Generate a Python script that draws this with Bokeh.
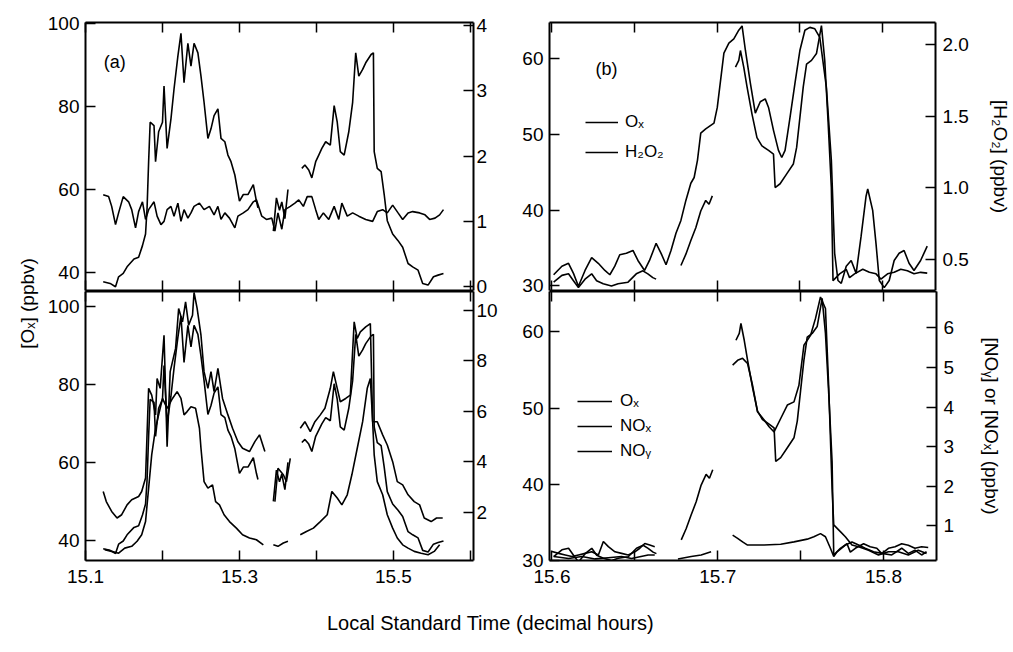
import math
from bokeh.plotting import figure
from bokeh.models import Range1d, LinearAxis, FixedTicker, Legend, LegendItem, Label, NumeralTickFormatter
from bokeh.layouts import row, column
from bokeh.embed import file_html
from bokeh.resources import INLINE
from bokeh.core.properties import value

FONT = "Liberation Sans"
nan = float("nan")

# ---------------- Panel (a): 15.1 - 15.6 h ----------------
a_ox_time = [
    [15.123, 15.132, 15.139, 15.143, 15.149, 15.154, 15.163, 15.169, 15.174, 15.178,
     15.180, 15.182, 15.184, 15.189, 15.191, 15.195, 15.200, 15.202, 15.206, 15.211,
     15.215, 15.220, 15.224, 15.228, 15.233, 15.237, 15.241, 15.246, 15.250, 15.254,
     15.259, 15.263, 15.267, 15.272, 15.276, 15.281, 15.285, 15.289, 15.294, 15.300,
     15.305, 15.311, 15.318, 15.322, 15.324],
    [15.344, 15.348, 15.352, 15.355, 15.359, 15.363],
    [15.381, 15.385, 15.390, 15.394, 15.399, 15.403, 15.407, 15.412, 15.418, 15.423,
     15.427, 15.431, 15.436, 15.442, 15.447, 15.451, 15.455, 15.460, 15.464, 15.471,
     15.474, 15.475, 15.479, 15.484, 15.488, 15.492, 15.499, 15.506, 15.512, 15.519,
     15.525, 15.532, 15.538, 15.545, 15.552, 15.558, 15.565],
]
a_ox = [
    [37.8, 37.4, 36.6, 39.0, 39.8, 41.4, 43.3, 43.7, 46.5, 49.3,
     55.6, 66.7, 76.2, 75.4, 66.7, 73.9, 76.2, 84.9, 69.9, 77.0,
     84.2, 92.1, 97.6, 85.7, 95.2, 89.7, 95.2, 92.9, 87.3, 81.0,
     72.3, 74.6, 77.8, 79.4, 72.3, 71.5, 68.3, 66.7, 63.5, 57.2,
     58.8, 58.8, 61.2, 57.2, 55.6],
    [50.0, 58.0, 55.0, 57.0, 53.0, 60.0],
    [65.1, 65.9, 64.7, 62.8, 66.7, 68.3, 69.9, 71.5, 70.7, 80.2,
     76.2, 69.1, 68.3, 73.9, 81.0, 92.9, 87.3, 88.9, 90.5, 92.5,
     92.9, 69.1, 65.1, 64.3, 58.8, 52.5, 49.3, 47.7, 46.1, 42.2,
     41.4, 40.6, 37.4, 37.0, 39.0, 39.4, 39.8],
]
a_h2o2_time = [
    [15.123, 15.130, 15.134, 15.139, 15.143, 15.149, 15.156, 15.160, 15.165, 15.169,
     15.174, 15.178, 15.182, 15.189, 15.193, 15.198, 15.202, 15.206, 15.211, 15.215,
     15.220, 15.224, 15.228, 15.233, 15.237, 15.241, 15.248, 15.254, 15.261, 15.267,
     15.272, 15.276, 15.281, 15.287, 15.294, 15.298, 15.305, 15.311, 15.318, 15.322,
     15.329, 15.335, 15.342, 15.346, 15.350, 15.355, 15.359, 15.366, 15.372, 15.377,
     15.383, 15.388, 15.394, 15.399, 15.403, 15.409, 15.416, 15.423, 15.429, 15.433,
     15.440, 15.447, 15.455, 15.464, 15.473, 15.479, 15.486, 15.492, 15.499, 15.506,
     15.512, 15.519, 15.525, 15.534, 15.541, 15.547, 15.554, 15.560, 15.565],
]
a_h2o2 = [
    [1.41, 1.38, 1.23, 0.95, 1.13, 1.38, 1.30, 1.18, 0.90, 1.15,
     1.30, 1.03, 1.18, 1.30, 1.08, 0.95, 1.00, 1.18, 1.23, 1.08,
     1.28, 1.00, 1.18, 1.05, 1.13, 1.23, 1.28, 1.18, 1.23, 1.10,
     1.23, 1.03, 1.13, 1.05, 0.90, 1.08, 1.13, 1.18, 1.30, 1.33,
     1.08, 1.03, 1.05, 0.85, 1.13, 0.88, 1.18, 1.23, 1.28, 1.33,
     1.23, 1.38, 1.38, 1.18, 1.03, 1.13, 1.03, 1.23, 1.03, 1.28,
     1.08, 1.13, 1.08, 1.03, 1.00, 1.15, 1.18, 1.13, 1.25, 1.13,
     1.03, 1.13, 1.15, 1.13, 1.10, 1.03, 1.05, 1.10, 1.18],
]
a_noy_time = [
    [15.123, 15.127, 15.134, 15.141, 15.147, 15.154, 15.160, 15.169, 15.173, 15.178,
     15.182, 15.186, 15.191, 15.193, 15.197, 15.202, 15.206, 15.210, 15.217, 15.221,
     15.226, 15.230, 15.234, 15.239, 15.241, 15.245, 15.250, 15.254, 15.259, 15.263,
     15.267, 15.272, 15.278, 15.285, 15.291, 15.298, 15.304, 15.313, 15.320, 15.326,
     15.333],
    [15.346, 15.350, 15.357, 15.361, 15.366],
    [15.379, 15.385, 15.392, 15.398, 15.405, 15.411, 15.418, 15.422, 15.427, 15.431,
     15.438, 15.444, 15.449, 15.453, 15.457, 15.464, 15.470, 15.473, 15.479, 15.486,
     15.492, 15.499, 15.505, 15.512, 15.519, 15.527, 15.534, 15.540, 15.549, 15.556,
     15.564],
]
a_noy = [
    [2.83, 2.43, 2.04, 1.78, 1.91, 2.30, 2.50, 2.63, 2.83, 3.36,
     6.91, 6.64, 5.86, 7.30, 6.91, 9.01, 4.60, 7.57, 8.49, 10.07,
     9.54, 10.33, 9.41, 9.80, 10.70, 10.07, 9.01, 7.57, 6.91, 7.57,
     6.78, 7.70, 6.51, 5.86, 5.33, 4.80, 4.54, 4.41, 4.80, 5.07,
     4.41],
    [2.43, 3.75, 3.49, 3.22, 4.14],
    [5.33, 5.59, 5.20, 5.59, 5.86, 6.12, 6.91, 7.57, 6.91, 6.38,
     6.51, 6.64, 9.54, 8.88, 9.14, 9.34, 9.47, 5.59, 5.59, 5.07,
     4.67, 4.01, 3.22, 3.09, 2.70, 2.43, 2.30, 1.78, 1.64, 1.78,
     1.78],
]
a_nox_time = [
    [15.125, 15.134, 15.143, 15.151, 15.160, 15.167, 15.173, 15.178, 15.182, 15.186,
     15.191, 15.195, 15.200, 15.206, 15.213, 15.219, 15.224, 15.228, 15.232, 15.237,
     15.243, 15.248, 15.250, 15.254, 15.259, 15.265, 15.269, 15.274, 15.280, 15.287,
     15.296, 15.304, 15.313, 15.322, 15.331],
    [15.344, 15.350, 15.357, 15.363],
    [15.379, 15.387, 15.396, 15.405, 15.414, 15.420, 15.427, 15.433, 15.440, 15.446,
     15.453, 15.460, 15.466, 15.470, 15.473, 15.475, 15.479, 15.486, 15.492, 15.499,
     15.505, 15.512, 15.519, 15.527, 15.536, 15.545, 15.553, 15.560],
]
a_nox = [
    [0.53, 0.46, 0.39, 0.59, 0.66, 0.86, 1.12, 1.64, 2.96, 4.28,
     5.33, 5.86, 6.51, 6.12, 6.51, 6.78, 6.51, 5.86, 5.99, 6.18,
     6.12, 5.33, 4.54, 3.22, 2.96, 3.09, 2.43, 2.30, 1.91, 1.64,
     1.38, 1.12, 0.99, 0.92, 0.72],
    [0.72, 0.66, 0.79, 0.86],
    [1.12, 1.25, 1.38, 1.64, 1.91, 2.83, 2.57, 2.30, 2.70, 3.49,
     4.54, 5.59, 6.91, 7.30, 5.59, 4.28, 3.22, 2.70, 1.91, 1.38,
     0.99, 0.72, 0.59, 0.46, 0.39, 0.33, 0.46, 0.72],
]

# ---------------- Panel (b): 15.6 - 15.83 h ----------------
b_ox_time = [
    [15.601, 15.606, 15.610, 15.613, 15.616, 15.620, 15.624, 15.627, 15.631, 15.636,
     15.640, 15.646, 15.651, 15.655, 15.658, 15.661, 15.663],
    [15.678, 15.681, 15.684, 15.687, 15.690, 15.693, 15.695, 15.697],
    [15.711, 15.713, 15.714, 15.716, 15.718, 15.721, 15.724, 15.727, 15.731, 15.734,
     15.735, 15.738, 15.742, 15.746, 15.748, 15.750, 15.752, 15.754, 15.757, 15.760,
     15.763, 15.765, 15.767, 15.769, 15.770, 15.774, 15.778, 15.780, 15.783, 15.788,
     15.792, 15.796, 15.799, 15.803, 15.807, 15.811, 15.815, 15.819, 15.823, 15.827],
]
b_ox = [
    [30.5, 31.4, 31.6, 30.7, 29.8, 30.9, 31.6, 30.7, 30.3, 30.0,
     30.3, 30.5, 31.6, 32.0, 31.6, 31.1, 30.9],
    [32.7, 34.2, 36.0, 37.7, 39.9, 41.3, 40.8, 41.9],
    [58.9, 59.8, 61.1, 58.9, 56.3, 52.7, 49.6, 48.5, 47.9, 47.4,
     43.0, 43.5, 44.8, 46.1, 48.3, 52.3, 56.3, 59.3, 59.8, 60.7,
     64.4, 59.8, 51.8, 43.0, 30.7, 31.6, 32.2, 31.1, 31.6, 32.2,
     31.8, 31.6, 30.9, 31.6, 31.8, 32.2, 32.0, 31.6, 31.8, 31.7],
]
b_h2o2_time = [
    [15.601, 15.606, 15.610, 15.613, 15.616, 15.620, 15.624, 15.628, 15.632, 15.635,
     15.638, 15.641, 15.645, 15.649, 15.652, 15.656, 15.659, 15.663, 15.666, 15.669,
     15.672, 15.675, 15.678, 15.681, 15.684, 15.686, 15.688, 15.690, 15.693, 15.698,
     15.700, 15.704, 15.707, 15.710, 15.713, 15.715, 15.717, 15.720, 15.723, 15.726,
     15.729, 15.731, 15.734, 15.737, 15.739, 15.741, 15.744, 15.747, 15.750, 15.753,
     15.756, 15.759, 15.762, 15.766, 15.769, 15.771, 15.773, 15.775, 15.778, 15.781,
     15.784, 15.787, 15.790, 15.791, 15.794, 15.796, 15.798, 15.801, 15.804, 15.807,
     15.810, 15.813, 15.816, 15.819, 15.823, 15.827],
]
b_h2o2 = [
    [0.39, 0.45, 0.47, 0.40, 0.31, 0.42, 0.51, 0.47, 0.42, 0.39,
     0.45, 0.53, 0.54, 0.56, 0.49, 0.42, 0.49, 0.61, 0.54, 0.46,
     0.56, 0.68, 0.77, 0.91, 1.03, 1.07, 1.19, 1.38, 1.41, 1.45,
     1.56, 1.94, 2.01, 2.04, 2.10, 2.13, 1.96, 1.73, 1.52, 1.60,
     1.62, 1.56, 1.40, 1.26, 1.21, 1.26, 1.49, 1.73, 1.96, 2.10,
     2.12, 2.11, 2.05, 1.70, 1.19, 0.54, 0.35, 0.33, 0.45, 0.49,
     0.40, 0.66, 0.94, 0.99, 0.84, 0.61, 0.35, 0.30, 0.35, 0.49,
     0.54, 0.56, 0.47, 0.42, 0.49, 0.59],
]
b_noy_time = [
    [15.600, 15.604, 15.608, 15.612, 15.616, 15.620, 15.624, 15.628, 15.631, 15.634,
     15.638, 15.642, 15.646, 15.650, 15.653, 15.656, 15.659, 15.662],
    [15.709, 15.712, 15.715, 15.718, 15.721, 15.724, 15.728, 15.731, 15.734, 15.738,
     15.742, 15.746, 15.749, 15.752, 15.756, 15.759, 15.762, 15.765, 15.767, 15.769,
     15.770, 15.774, 15.777, 15.781, 15.785, 15.791, 15.797, 15.803, 15.809, 15.815,
     15.821, 15.826],
]
b_noy = [
    [0.35, 0.30, 0.26, 0.22, 0.26, 0.30, 0.34, 0.26, 0.60, 0.47,
     0.34, 0.30, 0.26, 0.34, 0.43, 0.55, 0.51, 0.47],
    [5.06, 5.18, 5.23, 5.10, 4.55, 3.88, 3.67, 3.50, 3.37, 3.71,
     4.05, 4.13, 4.55, 5.56, 5.81, 6.24, 6.78, 6.49, 4.47, 1.94,
     1.02, 0.85, 0.72, 0.51, 0.47, 0.38, 0.26, 0.34, 0.34, 0.26,
     0.38, 0.30],
]
b_nox_time = [
    [15.601, 15.610, 15.618, 15.626, 15.634, 15.642, 15.648, 15.658, 15.662],
    [15.676, 15.684, 15.690, 15.696],
    [15.709, 15.712, 15.715, 15.718, 15.728, 15.738, 15.746, 15.754, 15.758, 15.762,
     15.765, 15.768, 15.770, 15.772, 15.777, 15.781, 15.785, 15.789, 15.794, 15.799,
     15.805, 15.811, 15.815, 15.819, 15.823, 15.826],
]
b_nox = [
    [0.22, 0.17, 0.22, 0.16, 0.19, 0.22, 0.17, 0.26, 0.26],
    [0.16, 0.22, 0.26, 0.34],
    [0.76, 0.68, 0.59, 0.51, 0.51, 0.53, 0.59, 0.66, 0.72, 0.80,
     0.72, 0.43, 0.22, 0.34, 0.51, 0.59, 0.51, 0.43, 0.34, 0.30,
     0.26, 0.43, 0.30, 0.38, 0.26, 0.34],
]

# tick values / labels
a_x_major = [15.1, 15.3, 15.5]
a_x_minor = [15.2, 15.4, 15.6]
b_x_major = [15.6, 15.7, 15.8]
b_x_minor = [15.65, 15.75]
a_top_left_ticks = [40, 60, 80, 100]
a_top_right_ticks = [0, 1, 2, 3, 4]
a_bot_left_ticks = [40, 60, 80, 100]
a_bot_right_ticks = [2, 4, 6, 8, 10]
b_top_left_ticks = [30, 40, 50, 60]
b_top_right_ticks = [0.5, 1.0, 1.5, 2.0]
b_bot_left_ticks = [30, 40, 50, 60]
b_bot_right_ticks = [1, 2, 3, 4, 5, 6]

y_label_left = "[Oₓ] (ppbv)"
y_label_b_top = "[H₂O₂] (ppbv)"
y_label_b_bot = "[NOᵧ] or [NOₓ] (ppbv)"
x_label = "Local Standard Time (decimal hours)"
legend_b_top = ["Oₓ", "H₂O₂"]
legend_b_bot = ["Oₓ", "NOₓ", "NOᵧ"]


def join(segs):
    out = []
    for i, s in enumerate(segs):
        if i:
            out.append(nan)
        out.extend(s)
    return out


def style_axis(ax, standoff=5):
    ax.axis_line_width = 2
    ax.axis_line_color = "black"
    ax.major_tick_in = 10
    ax.major_tick_out = 0
    ax.minor_tick_in = 10
    ax.minor_tick_out = 0
    ax.major_tick_line_width = 1.5
    ax.minor_tick_line_width = 1.5
    ax.major_tick_line_color = "black"
    ax.minor_tick_line_color = "black"
    ax.major_label_text_font = FONT
    ax.major_label_text_color = "black"
    ax.major_label_text_font_size = "19px"
    ax.major_label_standoff = standoff
    ax.axis_label_text_font = FONT
    ax.axis_label_text_font_style = "normal"
    ax.axis_label_text_font_size = "19px"
    ax.axis_label_text_color = "black"


def panel(width, height, borders, xr, yl, yr, xmaj, xmin, lticks, rticks,
          xlabels, lstand, rstand, rlabel=None, rlabel_stand=0, rfmt=None, transparent=False):
    p = figure(width=width, height=height, x_range=Range1d(*xr), y_range=Range1d(*yl),
               output_backend="svg", toolbar_location=None,
               min_border_left=borders[0], min_border_right=borders[1],
               min_border_top=borders[2], min_border_bottom=borders[3])
    p.extra_y_ranges = {"right": Range1d(*yr)}
    p.grid.visible = False
    p.outline_line_color = None
    p.background_fill_color = "white"
    p.border_fill_color = None if transparent else "white"

    xb = p.xaxis[0]
    if xlabels:
        xb.ticker = FixedTicker(ticks=xmaj, minor_ticks=xmin)
        style_axis(xb, standoff=9)
    else:
        xb.ticker = FixedTicker(ticks=[], minor_ticks=xmaj + xmin)
        style_axis(xb, standoff=0)

    xt = LinearAxis(ticker=FixedTicker(ticks=[], minor_ticks=xmaj + xmin))
    style_axis(xt, standoff=0)
    p.add_layout(xt, "above")

    yl_ax = p.yaxis[0]
    yl_ax.ticker = FixedTicker(ticks=lticks)
    style_axis(yl_ax, standoff=lstand)

    yr_ax = LinearAxis(y_range_name="right", ticker=FixedTicker(ticks=rticks))
    style_axis(yr_ax, standoff=rstand)
    if rfmt:
        yr_ax.formatter = NumeralTickFormatter(format=rfmt)
    if rlabel:
        yr_ax.axis_label = rlabel
        yr_ax.axis_label_standoff = rlabel_stand
    p.add_layout(yr_ax, "right")
    return p


LW = 1.6
OVERLAP = 14

# top-left (a)
pa1 = panel(471, 291 + OVERLAP, (45, 38, 22, 1 + OVERLAP), (15.1, 15.604), (35.7, 100.2), (-0.06, 4.05),
            a_x_major, a_x_minor, a_top_left_ticks, a_top_right_ticks, False, 6, 3)
pa1.line(join(a_ox_time), join(a_ox), line_color="black", line_width=LW)
pa1.line(join(a_h2o2_time), join(a_h2o2), line_color="black", line_width=LW, y_range_name="right")
pa1.add_layout(Label(x=15.138, y=90.6, text="(a)", text_font=FONT, text_font_size="18px",
                     text_align="center", text_baseline="middle", text_color="black"))

# bottom-left (a)
pa2 = panel(471, 302, (45, 38, 0, 33), (15.1, 15.604), (34.8, 103.9), (0.10, 10.74),
            a_x_major, a_x_minor, a_bot_left_ticks, a_bot_right_ticks, True, 6, 3, transparent=True)
pa2.line(join(a_ox_time), join(a_ox), line_color="black", line_width=LW)
pa2.line(join(a_noy_time), join(a_noy), line_color="black", line_width=LW, y_range_name="right")
pa2.line(join(a_nox_time), join(a_nox), line_color="black", line_width=LW, y_range_name="right")

# top-right (b)
pb1 = panel(502, 291 + OVERLAP, (38, 77, 22, 1 + OVERLAP), (15.5985, 15.832), (29.4, 64.8), (0.28, 2.154),
            b_x_major, b_x_minor, b_top_left_ticks, b_top_right_ticks, False, 6, 7,
            rlabel=y_label_b_top, rlabel_stand=18, rfmt="0.0")
r_ox_b1 = pb1.line(join(b_ox_time), join(b_ox), line_color="black", line_width=LW)
r_h_b1 = pb1.line(join(b_h2o2_time), join(b_h2o2), line_color="black", line_width=LW,
                  y_range_name="right")
pb1.add_layout(Label(x=15.633, y=58.6, text="(b)", text_font=FONT, text_font_size="18px",
                     text_align="center", text_baseline="middle", text_color="black"))
leg1 = Legend(items=[LegendItem(label=legend_b_top[0], renderers=[r_ox_b1]),
                     LegendItem(label=legend_b_top[1], renderers=[r_h_b1])],
              location=(36, 128), padding=0, margin=0, spacing=10, glyph_width=33,
              glyph_height=20, label_height=20, label_standoff=7,
              border_line_alpha=0, background_fill_alpha=0,
              label_text_font=FONT, label_text_font_size="17px", label_text_color="black")
pb1.add_layout(leg1)

# bottom-right (b)
pb2 = panel(502, 302, (38, 77, 0, 33), (15.5985, 15.832), (30.0, 65.3), (0.12, 6.92),
            b_x_major, b_x_minor, b_bot_left_ticks, b_bot_right_ticks, True, 6, 7,
            rlabel=y_label_b_bot, rlabel_stand=24, transparent=True)
r_ox_b2 = pb2.line(join(b_ox_time), join(b_ox), line_color="black", line_width=LW)
r_nox_b2 = pb2.line(join(b_nox_time), join(b_nox), line_color="black", line_width=LW,
                    y_range_name="right")
r_noy_b2 = pb2.line(join(b_noy_time), join(b_noy), line_color="black", line_width=LW,
                    y_range_name="right")
leg2 = Legend(items=[LegendItem(label=legend_b_bot[0], renderers=[r_ox_b2]),
                     LegendItem(label=legend_b_bot[1], renderers=[r_nox_b2]),
                     LegendItem(label=legend_b_bot[2], renderers=[r_noy_b2])],
              location=(28, 99), padding=0, margin=0, spacing=5, glyph_width=35,
              glyph_height=20, label_height=20, label_standoff=8,
              border_line_alpha=0, background_fill_alpha=0,
              label_text_font=FONT, label_text_font_size="17px", label_text_color="black")
pb2.add_layout(leg2)

bottom_row = row(pa2, pb2, margin=(-OVERLAP, 0, 0, 0))

# shared left label strip
pl = figure(width=40, height=593, x_range=Range1d(0, 40), y_range=Range1d(0, 593),
            x_axis_type=None, y_axis_type=None, output_backend="svg", toolbar_location=None,
            min_border=0)
pl.outline_line_color = None
pl.text(x=[27], y=[290], text=[y_label_left], angle=math.pi / 2,
        text_font=value(FONT), text_font_size=value("19px"),
        text_align="center", text_baseline="middle", text_color="black")

# shared bottom label strip
px = figure(width=1013, height=59, x_range=Range1d(0, 1013), y_range=Range1d(0, 59),
            x_axis_type=None, y_axis_type=None, output_backend="svg", toolbar_location=None,
            min_border=0)
px.outline_line_color = None
px.text(x=[490], y=[30], text=[x_label],
        text_font=value(FONT), text_font_size=value("20px"),
        text_align="center", text_baseline="middle", text_color="black")

layout = column(row(pl, column(row(pa1, pb1), bottom_row)), px)

with open("out.html", "w") as f:
    f.write(file_html(layout, INLINE, title="Ox chart"))
